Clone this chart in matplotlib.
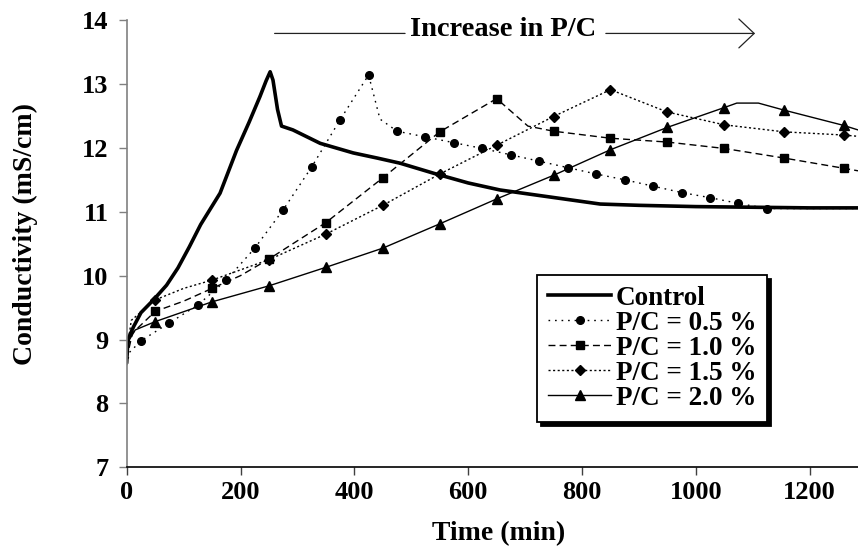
import numpy as np
import matplotlib
matplotlib.use('Agg')
import matplotlib.pyplot as plt

# Дані
t_control = [0, 2, 12, 25, 47, 70, 90, 110, 130, 164, 193, 215, 234, 245, 252, 257,
             265, 272, 292, 340, 398, 440, 480, 540, 600, 656, 744, 832, 900, 1000,
             1100, 1200, 1285]
v_control = [8.65, 9.0, 9.2, 9.42, 9.62, 9.85, 10.12, 10.45, 10.8, 11.29, 11.96, 12.4,
             12.8, 13.05, 13.19, 13.06, 12.6, 12.34, 12.28, 12.07, 11.92, 11.84, 11.76,
             11.6, 11.45, 11.34, 11.23, 11.12, 11.1, 11.08, 11.07, 11.06, 11.06]

t_05 = [0, 5, 25, 75, 125, 175, 225, 275, 325, 375, 425, 445, 475, 525, 575, 625,
        675, 725, 775, 825, 875, 925, 975, 1025, 1075, 1125, 1285]
v_05 = [8.6, 8.8, 8.98, 9.26, 9.54, 9.93, 10.43, 11.03, 11.7, 12.44, 13.14, 12.45,
        12.26, 12.17, 12.08, 11.99, 11.89, 11.79, 11.69, 11.59, 11.5, 11.4, 11.3,
        11.22, 11.13, 11.05, 11.05]
m_05 = [25, 75, 125, 175, 225, 275, 325, 375, 425, 475, 525, 575, 625, 675, 725,
        775, 825, 875, 925, 975, 1025, 1075, 1125]

t_10 = [0, 10, 50, 100, 150, 200, 250, 350, 450, 550, 650, 705, 750, 850, 950,
        1050, 1155, 1260, 1285]
v_10 = [8.7, 9.1, 9.44, 9.6, 9.8, 10.0, 10.26, 10.83, 11.53, 12.25, 12.77, 12.34,
        12.26, 12.15, 12.09, 11.99, 11.84, 11.68, 11.64]
m_10 = [50, 150, 250, 350, 450, 550, 650, 750, 850, 950, 1050, 1155, 1260]

t_15 = [0, 8, 50, 100, 150, 250, 350, 450, 550, 650, 750, 850, 950, 1050, 1155,
        1260, 1285]
v_15 = [8.8, 9.3, 9.62, 9.8, 9.93, 10.25, 10.65, 11.1, 11.59, 12.04, 12.49, 12.91,
        12.56, 12.36, 12.25, 12.2, 12.18]
m_15 = [50, 150, 250, 350, 450, 550, 650, 750, 850, 950, 1050, 1155, 1260]

t_20 = [0, 5, 15, 50, 150, 250, 350, 450, 550, 650, 750, 850, 950, 1050, 1072,
        1110, 1155, 1260, 1285]
v_20 = [8.7, 9.0, 9.15, 9.28, 9.59, 9.84, 10.13, 10.43, 10.81, 11.2, 11.57, 11.97,
        12.32, 12.63, 12.7, 12.7, 12.59, 12.35, 12.28]
m_20 = [50, 150, 250, 350, 450, 550, 650, 750, 850, 950, 1050, 1155, 1260]

labels = ['Control', 'P/C = 0.5 %', 'P/C = 1.0 %', 'P/C = 1.5 %', 'P/C = 2.0 %']

plt.rcParams['font.family'] = ['Liberation Serif', 'DejaVu Serif']
plt.rcParams['font.weight'] = 'bold'

fig = plt.figure(figsize=(8.58, 5.47), dpi=100)
ax = fig.add_axes([0.1477, 0.1457, 0.8523, 0.8177])

ax.plot(t_control, v_control, color='black', lw=2.6, label=labels[0])

series = [
    (t_05, v_05, m_05, 'o', 5.5, (0, (1.2, 3.5)), 1.0),
    (t_10, v_10, m_10, 's', 6.0, (0, (5, 3)), 1.0),
    (t_15, v_15, m_15, 'D', 5.0, (0, (1.5, 1.8)), 1.0),
    (t_20, v_20, m_20, '^', 7.0, '-', 1.0),
]
for (t, v, m, mk, ms, ls, lw), lab in zip(series, labels[1:]):
    idx = list(np.where(np.isin(t, m))[0])
    ax.plot(t, v, color='black', linestyle=ls, lw=lw, marker=mk, ms=ms,
            markevery=idx, label=lab)

ax.set_xlim(0, 1285)
ax.set_ylim(7, 14)
ax.set_xticks([0, 200, 400, 600, 800, 1000, 1200])
ax.set_yticks(range(7, 15))

ax.spines['top'].set_visible(False)
ax.spines['right'].set_visible(False)
ax.spines['left'].set_color('#808080')
ax.spines['left'].set_linewidth(1.2)
ax.spines['bottom'].set_linewidth(1.2)
ax.tick_params(axis='y', direction='out', length=6, width=1, color='#808080',
               labelsize=19, pad=7)
ax.tick_params(axis='x', direction='out', length=6, width=1, color='#404040',
               labelsize=19, pad=4)

ax.set_xlabel('Time (min)', fontsize=20, fontweight='bold', labelpad=12)
ax.set_ylabel('Conductivity (mS/cm)', fontsize=20, fontweight='bold')
ax.yaxis.set_label_coords(-0.122, 0.522)
ax.xaxis.label.set_x(0.508)

# Стрілка "Increase in P/C"
ax.annotate('', xy=(494, 13.79), xytext=(255, 13.79),
            arrowprops=dict(arrowstyle='-', lw=0.9, color='#222222'))
ax.annotate('', xy=(1109, 13.79), xytext=(837, 13.79),
            arrowprops=dict(arrowstyle='->,head_length=0.55,head_width=0.52',
                            lw=0.9, color='#222222', mutation_scale=20))
ax.text(662, 13.757, 'Increase in P/C', ha='center', va='baseline',
        fontsize=20.5, fontweight='bold')

leg = ax.legend(loc='upper left', bbox_to_anchor=(537 / 858, 1 - 275 / 547),
                bbox_transform=fig.transFigure, borderaxespad=0,
                frameon=True, fancybox=False,
                shadow={'ox': 3, 'oy': -3, 'color': 'black', 'alpha': 1},
                handlelength=2.35, handletextpad=0.15, labelspacing=0.0,
                borderpad=0.4, prop={'weight': 'bold', 'size': 19.5})
leg.get_frame().set_edgecolor('black')
leg.get_frame().set_linewidth(1.3)

plt.savefig('out.png', dpi=100)
